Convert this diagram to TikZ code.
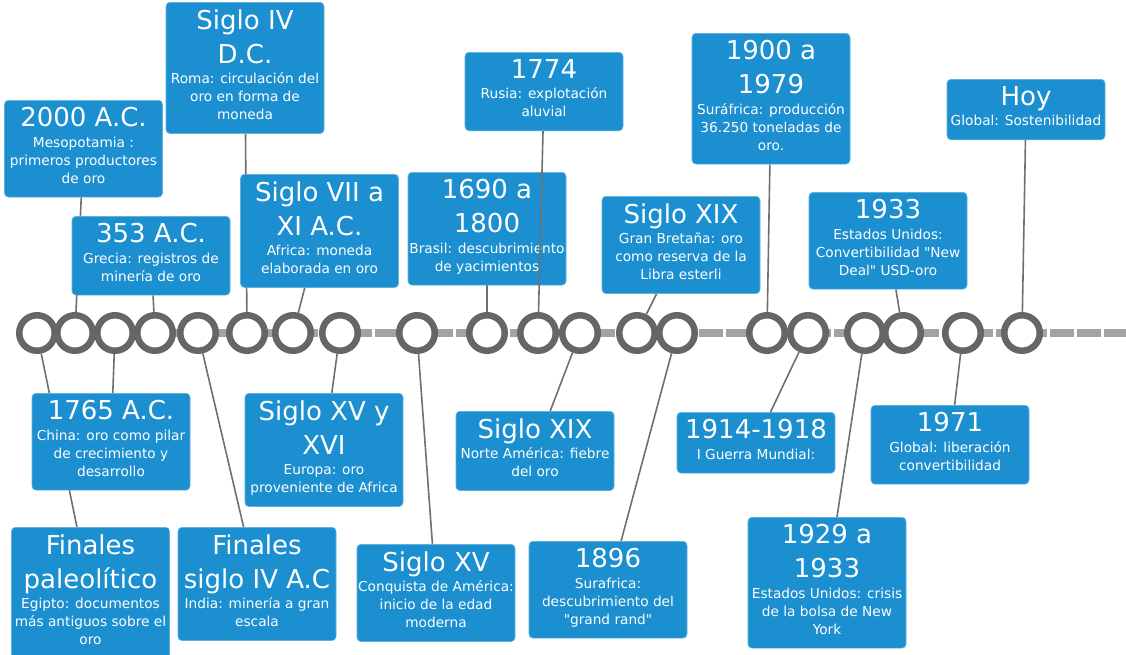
\documentclass[tikz,border=0pt]{standalone}
\usepackage{fontspec}
\setmainfont{DejaVu Sans}
\usetikzlibrary{backgrounds}

\definecolor{azul}{RGB}{27,143,208}
\definecolor{griseje}{RGB}{163,163,163}
\definecolor{grisanillo}{RGB}{102,102,102}
\definecolor{grislinea}{RGB}{112,112,112}

\hyphenpenalty=10000
\exhyphenpenalty=10000

% titulo y texto de cada caja
\newcommand{\evento}[2]{{\fontsize{26}{34}\selectfont #1\par}\vskip2.5pt{\fontsize{13.7}{18}\selectfont #2\rule[-7pt]{0pt}{7pt}\par}}

\begin{document}
\begin{tikzpicture}[x=1pt,y=-1pt,
	caja/.style={rectangle, rounded corners=4pt, fill=azul, draw=azul!70!white, line width=0.6pt,
		text=white, text width=158pt, inner xsep=0pt, inner ysep=7pt, align=flush center, anchor=north},
	hito/.style={circle, draw=grisanillo, line width=6.5pt, fill=white, minimum size=35.5pt, inner sep=0pt},
	conector/.style={draw=grislinea, line width=1.6pt},
	eje/.style={draw=griseje, line width=8pt, dash pattern=on 24pt off 3pt}]

	\def\yEje{333}
	\def\xMax{1126}
	\def\yMax{654}

	\useasboundingbox (0,0) rectangle (\xMax,\yMax);

	%FONDO Y EJE
	\begin{pgfonlayer}{background}
		\fill[white] (0,0) rectangle (\xMax,\yMax);
		\draw[eje] (24,\yEje) -- (\xMax+10,\yEje);
	\end{pgfonlayer}

	%HITOS
	\foreach \x [count=\i] in {37,75,115,155,198,247,293,340,417,487,538,580,637,677,767,808,865,903,963,1022}
		\node[hito] (h\i) at (\x,\yEje) {};

	%CAJAS: ARRIBA
	\node[caja] (a2000) at (83.5,100) {\evento{2000 A.C.}{Mesopotamia :\\primeros productores\\de oro}};
	\node[caja] (a353) at (151,216) {\evento{353 A.C.}{Grecia: registros de\\minería de oro}};
	\node[caja] (s4) at (245,2) {\evento{Siglo IV\\D.C.}{Roma: circulación del\\oro en forma de\\moneda}};
	\node[caja] (s7) at (319.5,174) {\evento{Siglo VII a\\XI A.C.}{Africa: moneda\\elaborada en oro}};
	\node[caja] (a1690) at (487,172) {\evento{1690 a\\1800}{Brasil: descubrimiento\\de yacimientos}};
	\node[caja] (a1774) at (544,52) {\evento{1774}{Rusia: explotación\\aluvial}};
	\node[caja] (s19gb) at (681,196) {\evento{Siglo XIX}{Gran Bretaña: oro\\como reserva de la\\Libra esterli}};
	\node[caja] (a1900) at (771,33) {\evento{1900 a\\1979}{Suráfrica: producción\\36.250 toneladas de\\oro.}};
	\node[caja] (a1933) at (888,192) {\evento{1933}{Estados Unidos:\\Convertibilidad \textquotedbl New\\Deal\textquotedbl{} USD-oro}};
	\node[caja] (hoy) at (1026,79) {\evento{Hoy}{Global: Sostenibilidad}};

	%CAJAS: ABAJO
	\node[caja] (fp) at (90.5,527) {\evento{Finales\\paleolítico}{Egipto: documentos\\más antiguos sobre el\\oro}};
	\node[caja] (a1765) at (111,393) {\evento{1765 A.C.}{China: oro como pilar\\de crecimiento y\\desarrollo}};
	\node[caja] (fs4) at (257,527) {\evento{Finales\\siglo IV A.C}{India: minería a gran\\escala}};
	\node[caja] (s15y16) at (324,393) {\evento{Siglo XV y\\XVI}{Europa: oro\\proveniente de Africa}};
	\node[caja] (s15) at (436,544) {\evento{Siglo XV}{Conquista de América:\\inicio de la edad\\moderna}};
	\node[caja] (s19na) at (535,411) {\evento{Siglo XIX}{Norte América: fiebre\\del oro}};
	\node[caja] (a1896) at (608,541) {\evento{1896}{Surafrica:\\descubrimiento del\\\textquotedbl grand rand\textquotedbl}};
	\node[caja] (a1914) at (756,412) {\evento{1914-1918}{I Guerra Mundial:}};
	\node[caja] (a1929) at (827,517) {\evento{1929 a\\1933}{Estados Unidos: crisis\\de la bolsa de New\\York}};
	\node[caja] (a1971) at (950,405) {\evento{1971}{Global: liberación\\convertibilidad}};

	%CONECTORES
	\begin{pgfonlayer}{background}
		\foreach \c/\h in {fp/1,a2000/2,a1765/3,a353/4,fs4/5,s4/6,s7/7,s15y16/8,s15/9,a1690/10,
			s19na/12,s19gb/13,a1896/14,a1900/15,a1914/16,a1929/17,a1933/18,a1971/19,hoy/20}
			\draw[conector] (h\h) -- (\c);
	\end{pgfonlayer}
	\draw[conector] (h11) -- (a1774);

\end{tikzpicture}
\end{document}
